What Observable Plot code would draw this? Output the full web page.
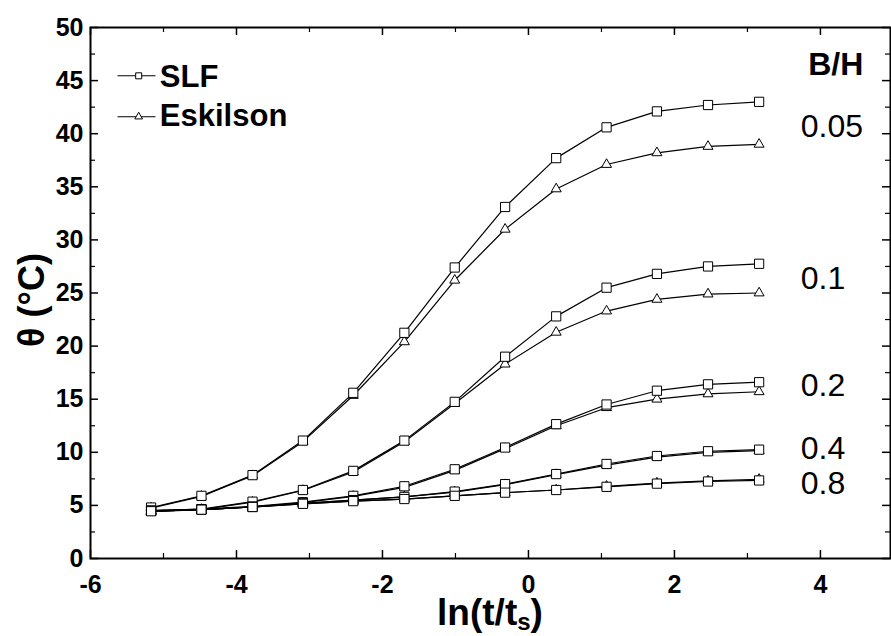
<!DOCTYPE html>
<html>
<head>
<meta charset="utf-8">
<script src="https://cdn.jsdelivr.net/npm/d3@7"></script>
<script src="https://cdn.jsdelivr.net/npm/@observablehq/plot@0.6"></script>
<style>
  html, body { margin: 0; padding: 0; background: white; }
  #chart { width: 891px; height: 636px; }
</style>
</head>
<body>
<div id="chart"></div>
<script>
// ---- data ----
const lnT = [-5.17, -4.48, -3.78, -3.09, -2.40, -1.70, -1.01, -0.32, 0.38, 1.07, 1.76, 2.46, 3.16];
const ratios = ["0.05", "0.1", "0.2", "0.4", "0.8"];
const slf005 = [4.8, 5.9, 7.85, 11.1, 15.6, 21.25, 27.4, 33.1, 37.7, 40.6, 42.1, 42.7, 43.0];
const esk005 = [4.75, 5.85, 7.8, 11.0, 15.35, 20.4, 26.2, 31.0, 34.8, 37.1, 38.2, 38.8, 39.0];
const slf01  = [4.5, 4.65, 5.35, 6.45, 8.25, 11.1, 14.75, 19.0, 22.8, 25.5, 26.8, 27.5, 27.75];
const esk01  = [4.45, 4.6, 5.3, 6.4, 8.15, 11.0, 14.6, 18.3, 21.3, 23.3, 24.4, 24.9, 25.0];
const slf02  = [4.5, 4.65, 4.9, 5.3, 5.9, 6.8, 8.4, 10.45, 12.65, 14.5, 15.8, 16.4, 16.6];
const esk02  = [4.45, 4.6, 4.85, 5.25, 5.85, 6.7, 8.3, 10.35, 12.5, 14.2, 15.0, 15.5, 15.7];
const slf04  = [4.5, 4.6, 4.85, 5.2, 5.5, 5.8, 6.3, 7.0, 7.95, 8.9, 9.65, 10.1, 10.25];
const esk04  = [4.45, 4.6, 4.85, 5.2, 5.5, 5.8, 6.25, 6.95, 7.9, 8.8, 9.55, 10.0, 10.15];
const slf08  = [4.45, 4.6, 4.85, 5.15, 5.4, 5.6, 5.9, 6.2, 6.45, 6.75, 7.05, 7.25, 7.35];
const esk08  = [4.4, 4.6, 4.85, 5.15, 5.4, 5.6, 5.9, 6.2, 6.45, 6.8, 7.1, 7.3, 7.45];
const xMajor = [-6, -4, -2, 0, 2, 4];
const xMinor = [-5, -3, -1, 1, 3];
const yMajor = [0, 5, 10, 15, 20, 25, 30, 35, 40, 45, 50];
const yMinor = [2.5, 7.5, 12.5, 17.5, 22.5, 27.5, 32.5, 37.5, 42.5, 47.5];
const models = ["SLF", "Eskilson"];

const slfSeries = [slf005, slf01, slf02, slf04, slf08];
const eskSeries = [esk005, esk01, esk02, esk04, esk08];
const rows = [];
ratios.forEach((r, i) => {
  lnT.forEach((x, k) => {
    rows.push({ratio: r, model: "SLF", key: "SLF " + r, x, y: slfSeries[i][k]});
    rows.push({ratio: r, model: "Eskilson", key: "Esk " + r, x, y: eskSeries[i][k]});
  });
});

// ---- layout ----
const W = 891, H = 636;
const mL = 90, mR = 1, mT = 27, mB = 78;
const pW = W - mL - mR, pH = H - mT - mB;
const font = "'Liberation Sans', Arial, Helvetica, sans-serif";

// annotation positions (data coordinates)
const labelX = 3.73;
const labelY = [40.7, 26.35, 16.3, 10.3, 7.0];
const labelRows = ratios.map((r, i) => ({text: r, y: labelY[i]}));
const legendRows = [
  {model: "SLF", y: 45.45, ty: 45.3},
  {model: "Eskilson", y: 41.6, ty: 41.7}
];

const chart = Plot.plot({
  width: W, height: H,
  marginLeft: mL, marginRight: mR, marginTop: mT, marginBottom: mB,
  style: {fontFamily: font, fontSize: "25px", fontWeight: "bold", color: "black", background: "white"},
  x: {domain: [-6, 4.96], ticks: xMajor, tickFormat: d => String(d), tickSize: 0, tickPadding: 17, label: null},
  y: {domain: [0, 50], ticks: yMajor, tickFormat: d => String(d), tickSize: 0, tickPadding: 7, label: null},
  marks: [
    // inward ticks
    Plot.tickY(yMajor, {y: d => d, insetRight: pW - 8, stroke: "black", strokeWidth: 1.5}),
    Plot.tickY(yMinor, {y: d => d, insetRight: pW - 5, stroke: "black", strokeWidth: 1.2}),
    Plot.tickY(yMajor, {y: d => d, insetLeft: pW - 8, stroke: "black", strokeWidth: 1.5}),
    Plot.tickY(yMinor, {y: d => d, insetLeft: pW - 5, stroke: "black", strokeWidth: 1.2}),
    Plot.tickX(xMajor, {x: d => d, insetTop: pH - 8, stroke: "black", strokeWidth: 1.5}),
    Plot.tickX(xMinor, {x: d => d, insetTop: pH - 5, stroke: "black", strokeWidth: 1.2}),
    Plot.tickX(xMajor, {x: d => d, insetBottom: pH - 8, stroke: "black", strokeWidth: 1.5}),
    Plot.tickX(xMinor, {x: d => d, insetBottom: pH - 5, stroke: "black", strokeWidth: 1.2}),
    Plot.frame({stroke: "black", strokeWidth: 2}),
    // curves
    Plot.line(rows, {x: "x", y: "y", z: "key", stroke: "black", strokeWidth: 1.2}),
    Plot.dot(rows.filter(d => d.model === "Eskilson"), {x: "x", y: "y", symbol: "triangle", r: 3.7, fill: "white", stroke: "black", strokeWidth: 1}),
    Plot.dot(rows.filter(d => d.model === "SLF"), {x: "x", y: "y", symbol: "square", r: 5.2, fill: "white", stroke: "black", strokeWidth: 1}),
    // B/H labels
    Plot.text(["B/H"], {x: 4.21, y: 46.5, text: d => d, fontSize: 32, fontWeight: "bold", textAnchor: "middle", lineAnchor: "middle", fill: "black"}),
    Plot.text(labelRows, {x: labelX, y: "y", text: "text", fontSize: 32, fontWeight: "normal", textAnchor: "start", lineAnchor: "middle", fill: "black"}),
    // legend
    Plot.link(legendRows, {x1: -5.63, x2: -5.11, y1: "y", y2: "y", stroke: "black", strokeWidth: 1.1}),
    Plot.dot(legendRows, {x: -5.34, y: "y", symbol: d => d.model === "SLF" ? "square" : "triangle", r: d => d.model === "SLF" ? 5.2 : 3.7, fill: "white", stroke: "black", strokeWidth: 1}),
    Plot.text(legendRows, {x: -5.05, y: "ty", text: "model", fontSize: 31, fontWeight: "bold", textAnchor: "start", lineAnchor: "middle", fill: "black"})
  ]
});

// axis titles with subscript
const svg = d3.select(chart);
svg.append("text")
  .attr("transform", `translate(31, ${300}) rotate(-90)`)
  .attr("text-anchor", "middle")
  .attr("dy", "0.35em")
  .style("font-family", font).style("font-size", "36px").style("font-weight", "bold")
  .attr("fill", "black")
  .text("θ (°C)");
const xl = svg.append("text")
  .attr("x", mL + pW / 2)
  .attr("y", 625)
  .attr("text-anchor", "middle")
  .style("font-family", font).style("font-size", "37px").style("font-weight", "bold")
  .attr("fill", "black");
xl.append("tspan").text("ln(t/t");
xl.append("tspan").attr("dy", 5).style("font-size", "24px").text("s");
xl.append("tspan").attr("dy", -5).text(")");

document.getElementById("chart").appendChild(chart);
</script>
</body>
</html>
